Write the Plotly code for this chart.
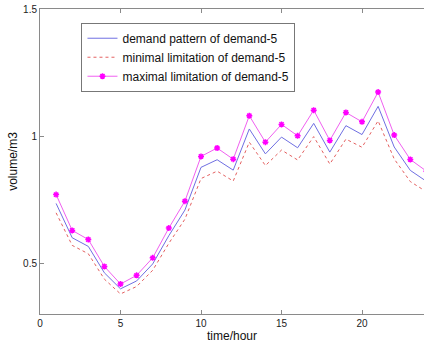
import plotly.graph_objects as go

hours = list(range(1, 25))

demand = [0.735, 0.600, 0.566, 0.462, 0.399, 0.430, 0.497, 0.608, 0.709, 0.877,
          0.907, 0.866, 1.028, 0.930, 0.996, 0.954, 1.050, 0.937, 1.041, 1.006,
          1.117, 0.957, 0.865, 0.822]
minimal = [0.698, 0.570, 0.537, 0.437, 0.379, 0.408, 0.472, 0.578, 0.673, 0.833,
           0.862, 0.823, 0.976, 0.884, 0.945, 0.906, 0.998, 0.890, 0.988, 0.956,
           1.060, 0.910, 0.821, 0.781]
maximal = [0.770, 0.629, 0.593, 0.487, 0.418, 0.452, 0.521, 0.638, 0.744, 0.920,
           0.953, 0.909, 1.080, 0.976, 1.046, 1.001, 1.102, 0.983, 1.093, 1.056,
           1.173, 1.004, 0.908, 0.862]

x_ticks = [0, 5, 10, 15, 20]
y_ticks = [0.5, 1, 1.5]
y_tick_text = ["0.5", "1", "1.5"]

FONT = "Liberation Sans, Arial, sans-serif"
AXIS_GREY = "#8a8a8a"

fig = go.Figure()
fig.add_trace(go.Scatter(
    x=hours, y=demand, mode="lines", name="demand pattern of demand-5",
    line=dict(color="#6f6fe2", width=1),
))
fig.add_trace(go.Scatter(
    x=hours, y=minimal, mode="lines", name="minimal limitation of demand-5",
    line=dict(color="#e46060", width=1, dash="dot"),
))
fig.add_trace(go.Scatter(
    x=hours, y=maximal, mode="lines+markers", name="maximal limitation of demand-5",
    line=dict(color="#f060f0", width=1),
    marker=dict(symbol="asterisk-open", size=5, color="#ff00ff",
                line=dict(color="#ff00ff", width=1.5)),
))

fig.update_layout(
    width=424, height=343,
    margin=dict(l=40, r=0, t=9, b=29),
    paper_bgcolor="white", plot_bgcolor="white",
    font=dict(family=FONT, size=10, color="#222222"),
    showlegend=True,
    legend=dict(
        x=0.108, y=0.955, xanchor="left", yanchor="top",
        bgcolor="white", bordercolor="#777777", borderwidth=1,
        font=dict(family=FONT, size=12, color="#111111"),
        itemwidth=30, tracegroupgap=0,
    ),
    xaxis=dict(
        range=[0, 23.85], tickvals=x_ticks, ticks="inside", ticklen=4,
        tickcolor=AXIS_GREY, showline=True, linecolor=AXIS_GREY, linewidth=1,
        mirror="ticks", showgrid=False, zeroline=False,
        title=dict(text="time/hour", font=dict(size=12, family=FONT, color="#111111"),
                   standoff=2),
        tickfont=dict(size=10),
    ),
    yaxis=dict(
        range=[0.3, 1.5], tickvals=y_ticks, ticktext=y_tick_text, ticks="inside",
        ticklen=4, tickcolor=AXIS_GREY, showline=True, linecolor=AXIS_GREY,
        linewidth=1, showgrid=False, zeroline=False,
        title=dict(text="volume/m3", font=dict(size=12, family=FONT, color="#111111"),
                   standoff=2),
        tickfont=dict(size=10),
    ),
)

fig.write_html("out.html")
